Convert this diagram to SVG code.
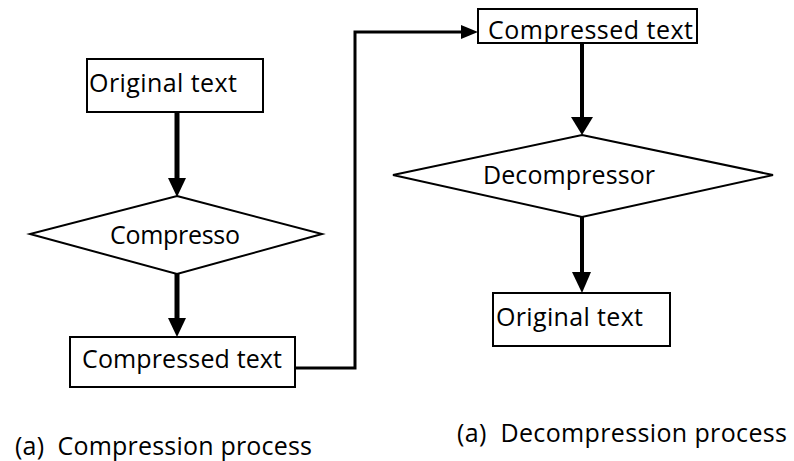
<svg xmlns="http://www.w3.org/2000/svg" width="794" height="461" viewBox="0 0 794 461">
<style>
.box{fill:#fff;stroke:#000;stroke-width:2}
.dia{fill:#fff;stroke:#000;stroke-width:2}
.t{font-family:"Open Sans","Liberation Sans",sans-serif;font-size:25px;fill:#000}
.thick{stroke:#000;stroke-width:5;fill:none}
.med{stroke:#000;stroke-width:4;fill:none}
.thin{stroke:#000;stroke-width:3;fill:none}
.head{fill:#000}
</style>
<defs>
<clipPath id="clipTop"><rect x="478" y="9" width="220" height="34"/></clipPath>
</defs>
<g id="connectors">
<line class="thick" x1="177" y1="112" x2="177" y2="180"/>
<polygon class="head" points="168,178 186,178 177,197"/>
<line class="thick" x1="177" y1="274" x2="177" y2="320"/>
<polygon class="head" points="168,318 186,318 177,337"/>
<polyline class="thin" points="295,368 355,368 355,32 463,32"/>
<polygon class="head" points="461,25 478,32 461,39"/>
<line class="med" x1="582" y1="43" x2="582" y2="119"/>
<polygon class="head" points="571,117 593,117 582,135"/>
<line class="med" x1="582" y1="217" x2="582" y2="274"/>
<polygon class="head" points="572,272 591,272 582,293"/>
</g>
<g id="n1">
<rect class="box" x="87" y="59" width="176" height="53"/>
<text class="t" x="89" y="92" textLength="148" lengthAdjust="spacing">Original text</text>
</g>
<g id="n2">
<polygon class="dia" points="177,196 322,234 177,274 30,234"/>
<text class="t" x="110" y="244" textLength="130" lengthAdjust="spacing">Compresso</text>
</g>
<g id="n3">
<rect class="box" x="70" y="337" width="225" height="50"/>
<text class="t" x="82" y="368" textLength="200" lengthAdjust="spacing">Compressed text</text>
</g>
<g id="n4">
<rect class="box" x="478" y="9" width="219" height="34"/>
<text class="t" x="488" y="39" textLength="205" lengthAdjust="spacing" clip-path="url(#clipTop)">Compressed text</text>
</g>
<g id="n5">
<polygon class="dia" points="582,135 773,175 582,217 393,175"/>
<text class="t" x="483" y="184" textLength="172" lengthAdjust="spacing">Decompressor</text>
</g>
<g id="n6">
<rect class="box" x="493" y="293" width="177" height="53"/>
<text class="t" x="496" y="326" textLength="147" lengthAdjust="spacing">Original text</text>
</g>
<g id="captions">
<text class="t" x="15" y="455" textLength="297" lengthAdjust="spacing" xml:space="preserve">(a)  Compression process</text>
<text class="t" x="457" y="442" textLength="330" lengthAdjust="spacing" xml:space="preserve">(a)  Decompression process</text>
</g>
</svg>
